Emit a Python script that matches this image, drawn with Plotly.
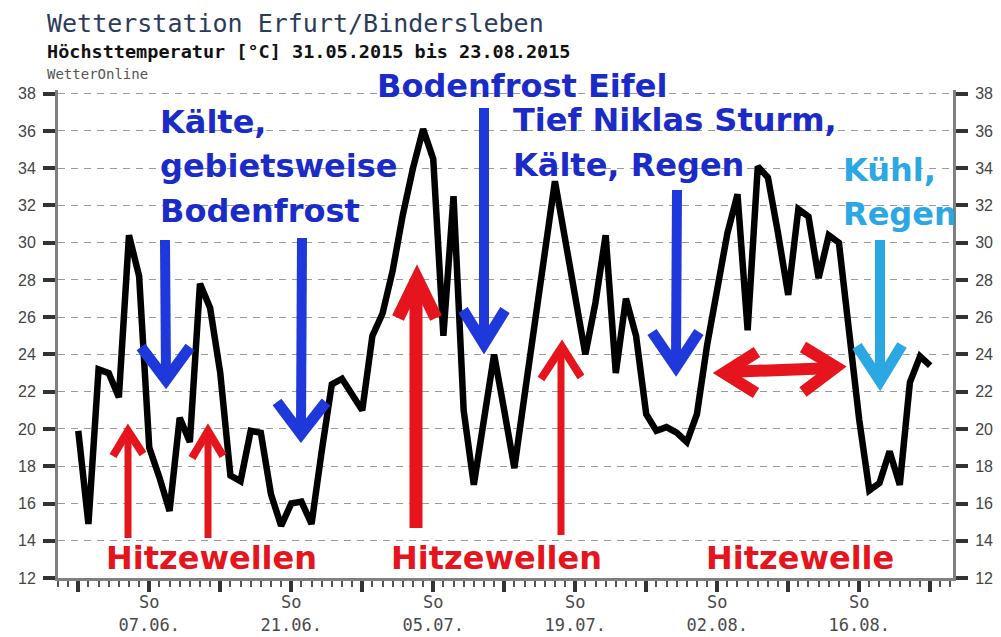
import pandas as pd
import plotly.graph_objects as go

# ---- data ----
dates = pd.date_range("2015-05-31", "2015-08-23", freq="D")
tmax = [19.9, 14.9, 23.2, 23.0, 21.7, 30.4, 28.2, 19.0, 17.4, 15.6,
        20.6, 19.3, 27.8, 26.5, 23.0, 17.5, 17.2, 19.9, 19.8, 16.5,
        14.8, 16.0, 16.1, 14.9, 18.8, 22.4, 22.7, 21.8, 21.0, 25.0,
        26.2, 28.5, 31.5, 34.0, 36.1, 34.5, 25.0, 32.5, 21.0, 17.0,
        20.5, 24.0, 21.0, 17.9, 21.8, 25.7, 29.6, 33.3, 30.2, 27.2,
        24.0, 26.8, 30.4, 23.0, 27.0, 25.0, 20.8, 19.9, 20.1, 19.8,
        19.3, 20.8, 24.5, 27.5, 30.5, 32.6, 25.3, 34.1, 33.5, 30.5,
        27.2, 31.8, 31.4, 28.1, 30.4, 30.0, 25.0, 20.5, 16.7, 17.1,
        18.8, 17.0, 22.5, 23.9, 23.4]
week_ticks = pd.date_range("2015-05-31", "2015-08-23", freq="7D")
week_labels = ["", "So<br>07.06.", "", "So<br>21.06.", "", "So<br>05.07.", "",
               "So<br>19.07.", "", "So<br>02.08.", "", "So<br>16.08.", ""]
y_ticks = list(range(12, 39, 2))

# page has 8px body margin: figure drawn at offset (8, 8)
OFF = 8
W, H = 1001 - OFF, 637 - OFF
# plot area in page pixels
L, R, T, B = 58, 953, 90, 578


def PX(x):
    return (x - L) / (R - L)


def PY(y):
    return (B - y) / (B - T)


fig = go.Figure()
fig.add_trace(go.Scatter(x=dates, y=tmax, mode="lines",
                         line=dict(color="black", width=6.5),
                         showlegend=False, hoverinfo="x+y"))
fig.add_trace(go.Scatter(x=dates, y=tmax, mode="lines", yaxis="y2",
                         line=dict(color="rgba(0,0,0,0)", width=0),
                         showlegend=False, hoverinfo="skip"))

yax = dict(range=[12, 38.2], tickvals=y_ticks, ticks="outside", ticklen=12,
           tickwidth=4, tickcolor="#333", showline=True, linecolor="#808080",
           linewidth=3, showgrid=True, gridcolor="#9a9a9a", gridwidth=1.3,
           griddash="7px,6px", zeroline=False, ticklabelstandoff=4,
           automargin=False,
           tickfont=dict(family="Liberation Sans", size=16, color="#444"))

fig.update_layout(
    width=W, height=H,
    margin=dict(l=L - OFF, r=W - (R - OFF), t=T - OFF, b=H - (B - OFF),
                autoexpand=False),
    plot_bgcolor="white", paper_bgcolor="white",
    xaxis=dict(type="date", range=["2015-05-29 00:00", "2015-08-25 06:00"],
               tickvals=week_ticks, ticktext=week_labels, ticks="outside",
               ticklen=11, tickwidth=3.5, tickcolor="#333", showline=True,
               linecolor="#808080", linewidth=3, showgrid=False, zeroline=False,
               ticklabelstandoff=-4, automargin=False,
               tickfont=dict(family="DejaVu Sans Mono", size=17, color="#4a4a4a"),
               minor=dict(ticks="outside", ticklen=6, tickwidth=1.8,
                          tickcolor="#555", dtick=86400000,
                          tick0="2015-05-31", showgrid=False)),
    yaxis=yax,
    yaxis2=dict(yax, overlaying="y", side="right", showgrid=False),
)

# ---- header texts ----
hdr = [
    ("Wetterstation Erfurt/Bindersleben", 24, 25, "#2c3b5a", "normal"),
    ("Höchsttemperatur [°C] 31.05.2015 bis 23.08.2015", 51, 18.5, "#111", "bold"),
    ("WetterOnline", 74, 14, "#555", "normal"),
]
for txt, yp, sz, col, wt in hdr:
    fig.add_annotation(text=txt, xref="paper", yref="paper", x=PX(45), y=PY(yp),
                       xanchor="left", yanchor="middle", showarrow=False,
                       font=dict(family="DejaVu Sans Mono", size=sz, color=col,
                                 weight=wt))

BLUE_T = "#1b2bc8"
BLUE = "#1f38dc"
LBLUE = "#2ba8e4"
RED = "#e6141c"

labels = [
    ("Kälte,", 158, 122, BLUE_T),
    ("gebietsweise", 158, 166, BLUE_T),
    ("Bodenfrost", 158, 211, BLUE_T),
    ("Bodenfrost Eifel", 375, 86, BLUE_T),
    ("Tief Niklas Sturm,", 511, 120, BLUE_T),
    ("Kälte, Regen", 511, 165, BLUE_T),
    ("Kühl,", 841, 170, LBLUE),
    ("Regen", 841, 214, LBLUE),
    ("Hitzewellen", 104, 558, RED),
    ("Hitzewellen", 389, 558, RED),
    ("Hitzewelle", 704, 558, RED),
]
for txt, xp, yp, col in labels:
    fig.add_annotation(text=txt, xref="paper", yref="paper", x=PX(xp), y=PY(yp),
                       xanchor="left", yanchor="middle", showarrow=False,
                       font=dict(family="DejaVu Sans", size=32, color=col,
                                 weight="bold"))


def seg_path(pts):
    return "M " + " L ".join(f"{PX(a):.5f},{PY(b):.5f}" for a, b in pts)


def arrow(shaft, heads, col, w, hw):
    fig.add_shape(type="path", xref="paper", yref="paper", path=seg_path(shaft),
                  line=dict(color=col, width=w))
    for hd in heads:
        fig.add_shape(type="path", xref="paper", yref="paper", path=seg_path(hd),
                      line=dict(color=col, width=hw))


arrow([(165, 240), (166, 376)], [[(141, 347), (166, 380), (190, 347)]], BLUE, 10, 11)
arrow([(302, 238), (301, 430)], [[(277, 402), (301, 434), (326, 402)]], BLUE, 10, 11)
arrow([(484, 108), (484, 340)], [[(463, 310), (484, 344), (505, 310)]], BLUE, 10, 11)
arrow([(677, 190), (676, 363)], [[(652, 332), (676, 367), (699, 332)]], BLUE, 10, 11)
arrow([(880, 240), (880, 377)], [[(857, 346), (880, 381), (902, 345)]], LBLUE, 10, 11)
arrow([(128, 538), (128, 434)], [[(113, 456), (128, 431), (143, 454)]], RED, 7, 8)
arrow([(208, 538), (208, 434)], [[(192, 458), (208, 431), (223, 456)]], RED, 7, 8)
arrow([(416, 528), (416, 283)], [[(398, 318), (417, 279), (436, 318)]], RED, 13, 13)
arrow([(561, 535), (561, 350)], [[(541, 379), (562, 347), (581, 377)]], RED, 7, 8)
arrow([(726, 372), (834, 368)], [[(757, 352), (724, 373), (756, 393)],
                                 [(803, 347), (836, 367), (803, 392)]], RED, 12, 12)

fig.write_html("out.html")
